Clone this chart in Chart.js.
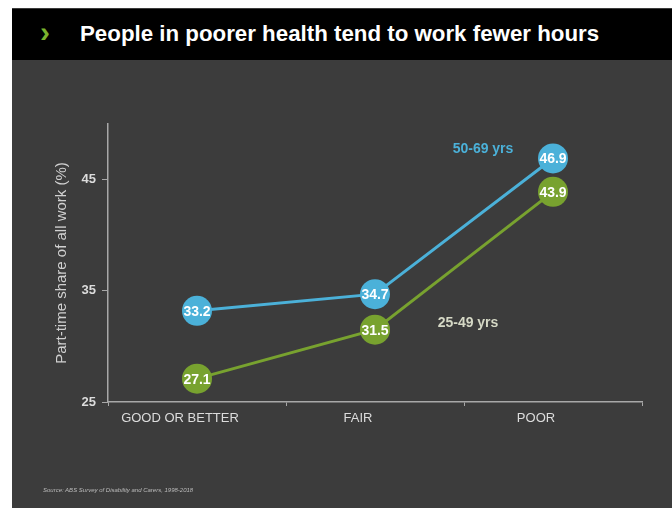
<!DOCTYPE html>
<html>
<head>
<meta charset="utf-8">
<script src="https://cdn.jsdelivr.net/npm/chart.js@4/dist/chart.umd.min.js"></script>
<style>
  html, body { margin: 0; padding: 0; background: #fff; }
  #slide { position: absolute; left: 12px; top: 8px; width: 660px; height: 500px; background: #3c3c3c; font-family: "Liberation Sans", Arial, sans-serif; }
  #header { position: absolute; left: 0; top: 1px; width: 660px; height: 51px; background: #000; }
  #chev { position: absolute; left: 28px; top: 6px; color: #7ab32e; font-size: 30px; font-weight: bold; }
  #title { position: absolute; left: 68px; top: 12px; color: #fff; font-size: 22.3px; font-weight: bold; }
  #chartBox { position: absolute; left: 0; top: 52px; width: 660px; height: 448px; }
  #source { position: absolute; left: 31px; top: 479px; color: #bbb; font-size: 6px; font-style: italic; }
</style>
</head>
<body>
<div id="slide">
  <div id="header"><span id="chev">›</span><span id="title">People in poorer health tend to work fewer hours</span></div>
  <div id="chartBox"><canvas id="healthChart" width="660" height="448"></canvas></div>
  <div id="source">Source: ABS Survey of Disability and Carers, 1998-2018</div>
</div>
<script>
// ======================== Data ========================
const categories = ["GOOD OR BETTER", "FAIR", "POOR"];
const olderValues = [33.2, 34.7, 46.9];   // 50-69 yrs
const youngerValues = [27.1, 31.5, 43.9]; // 25-49 yrs
const yTicks = [25, 35, 45];
const seriesNames = ["50-69 yrs", "25-49 yrs"];

const BLUE = "#4bb1d9";
const GREEN = "#78a22f";

// write the value inside each bubble, plus the series name next to the lines
const bubbleLabels = {
    id: "bubbleLabels",
    afterDatasetsDraw(chart) {
        const ctx = chart.ctx;
        ctx.save();
        ctx.textAlign = "center";
        ctx.textBaseline = "middle";
        ctx.font = "bold 14px 'Liberation Sans', Arial, sans-serif";
        ctx.fillStyle = "#fff";
        chart.data.datasets.forEach((ds, i) => {
            chart.getDatasetMeta(i).data.forEach((pt, j) => {
                ctx.fillText(ds.data[j].toFixed(1), pt.x, pt.y + 1);
            });
        });

        let x = chart.scales.x, y = chart.scales.y;
        ctx.fillStyle = BLUE;
        ctx.fillText(seriesNames[0], x.getPixelForValue(1) + 108, y.getPixelForValue(47.7));
        ctx.fillStyle = "#d6d9c6";
        ctx.fillText(seriesNames[1], x.getPixelForValue(1) + 93, y.getPixelForValue(32.1));
        ctx.restore();
    }
};

let ctx = document.getElementById("healthChart").getContext("2d");

let healthChart = new Chart(ctx, {
    type: "line",
    data: {
        labels: categories,
        datasets: [{
            label: seriesNames[0],
            data: olderValues,
            borderColor: BLUE,
            backgroundColor: BLUE,
            borderWidth: 3,
            pointRadius: 15,
            pointBorderWidth: 0,
            pointBackgroundColor: BLUE
        }, {
            label: seriesNames[1],
            data: youngerValues,
            borderColor: GREEN,
            backgroundColor: GREEN,
            borderWidth: 3,
            pointRadius: 15,
            pointBorderWidth: 0,
            pointBackgroundColor: GREEN
        }]
    },
    options: {
        responsive: false,
        animation: false,
        layout: { padding: { left: 0, right: 30, top: 64, bottom: 0 } },
        plugins: { legend: { display: false }, tooltip: { enabled: false } },
        scales: {
            x: {
                offset: true,
                border: { color: "#a8a8a8", width: 1.5 },
                grid: { display: true, drawOnChartArea: false, offset: true, tickLength: 4, color: "#a8a8a8" },
                ticks: { color: "#dcdcdc", font: { size: 13, family: "'Liberation Sans', Arial, sans-serif" }, padding: 5, maxRotation: 0, labelOffset: -17 },
                afterFit: (s) => { s.height = 106; }
            },
            y: {
                min: 25,
                max: 50,
                afterBuildTicks: (s) => { s.ticks = yTicks.map(v => ({ value: v })); },
                border: { color: "#a8a8a8", width: 1.5 },
                grid: { display: true, drawOnChartArea: false, tickLength: 6, color: "#a8a8a8" },
                ticks: { color: "#dcdcdc", font: { size: 13, weight: "bold", family: "'Liberation Sans', Arial, sans-serif" }, padding: 6 },
                title: { display: true, text: "Part-time share of all work (%)", color: "#d0d0d0", font: { size: 15, family: "'Liberation Sans', Arial, sans-serif" }, padding: { top: 41, bottom: 0 } },
                afterFit: (s) => { s.width = 96; }
            }
        }
    },
    plugins: [bubbleLabels]
});
</script>
</body>
</html>
